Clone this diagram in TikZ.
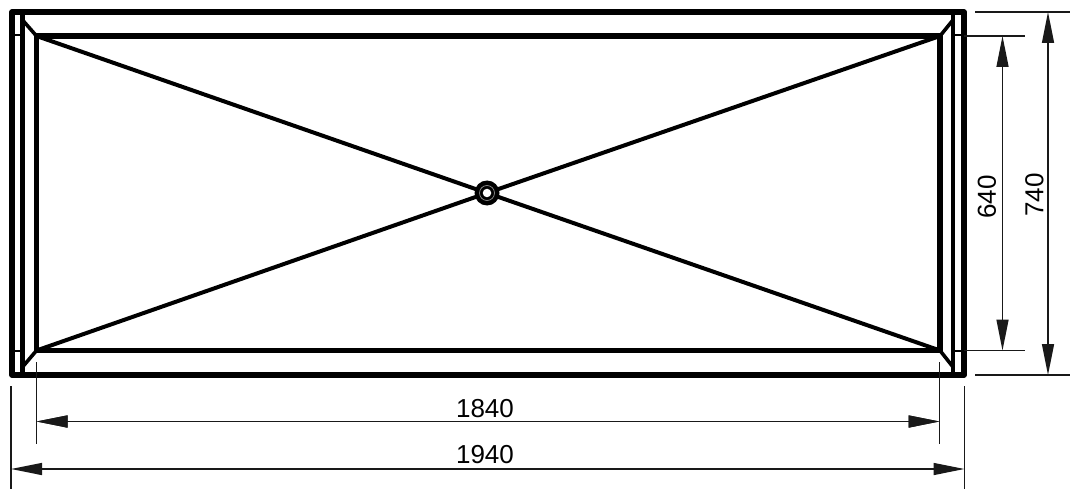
\documentclass[tikz,border=0pt]{standalone}
\usepackage{fontspec}
\setmainfont{Liberation Sans}
\usetikzlibrary{arrows.meta}
\tikzset{
  heavy/.style={line width=5.4pt,black,line join=round},
  inner/.style={line width=5.6pt,black,line join=miter},
  post/.style={line width=4.4pt,black},
  medium/.style={line width=4pt,black},
  mitre/.style={line width=3.6pt,black},
  light/.style={line width=2.6pt,black},
  extline/.style={line width=1.4pt,black!90},
  dimline/.style={line width=1.4pt,black!90,{Triangle[length=31pt,width=12pt]}-{Triangle[length=31pt,width=12pt]}},
  dimtext/.style={font=\fontsize{26pt}{27pt}\selectfont,inner sep=0pt,text=black}
}
\begin{document}
\begin{tikzpicture}[x=1pt,y=-1pt]
\useasboundingbox (0,0) rectangle (1070,489);
\fill[white] (0,0) rectangle (1070,489);
% corners
\coordinate (TL) at (12,12);
\coordinate (TR) at (964,12);
\coordinate (BR) at (964,375);
\coordinate (BL) at (12,375);
\coordinate (iTL) at (36.5,36);
\coordinate (iTR) at (940,36);
\coordinate (iBR) at (940,350.5);
\coordinate (iBL) at (36.5,350.5);
\coordinate (C) at (487,193);
% frame
\draw[heavy] (TL) rectangle (BR);
\draw[inner] (iTL) rectangle (iBR);
\draw[post] (22.5,12) -- (22.5,375);
\draw[post] (953,12) -- (953,375);
\draw[light] (12,35) -- (22.5,35);
\draw[light] (12,351) -- (22.5,351);
\draw[light] (953,35) -- (964,35);
\draw[light] (953,351) -- (964,351);
% mitres
\draw[mitre] (22.5,20) -- (iTL);
\draw[mitre] (953,20) -- (iTR);
\draw[mitre] (22.5,367) -- (iBL);
\draw[mitre] (953,367) -- (iBR);
% diagonals
\draw[medium] (iTL) -- (C);
\draw[medium] (iTR) -- (C);
\draw[medium] (iBL) -- (C);
\draw[medium] (iBR) -- (C);
% drain
\node[circle,fill=black,minimum size=25pt,inner sep=0pt] (drain) at (C) {};
\node[circle,draw=white!55!black,line width=0.7pt,minimum size=15pt,inner sep=0pt] (ring) at (C) {};
\node[circle,fill=white,minimum size=8.5pt,inner sep=0pt] (hole) at (C) {};
% extension lines
\draw[extline] (975,12) -- (1070,12);
\draw[extline] (975,375) -- (1070,375);
\draw[extline] (964,36) -- (1025,36);
\draw[extline] (964,350.5) -- (1025,350.5);
\draw[extline] (11,386) -- (11,489);
\draw[extline] (964.5,386) -- (964.5,489);
\draw[extline] (36.5,362) -- (36.5,444);
\draw[extline] (939.5,362) -- (939.5,444);
% dimensions
\coordinate (d740a) at (1048,12);
\coordinate (d740b) at (1048,375);
\coordinate (d640a) at (1002.5,36);
\coordinate (d640b) at (1002.5,350.5);
\coordinate (d1840a) at (36.5,421.5);
\coordinate (d1840b) at (939.5,421.5);
\coordinate (d1940a) at (11,469);
\coordinate (d1940b) at (964.5,469);
\draw[dimline] (d740a) -- (d740b);
\draw[dimline] (d640a) -- (d640b);
\draw[dimline] (d1840a) -- (d1840b);
\draw[dimline] (d1840a) -- (d1840b);
\draw[dimline] (d1940a) -- (d1940b);
\node[dimtext,rotate=90] (t740) at (1034.5,195) {740};
\node[dimtext,rotate=90] (t640) at (987,197) {640};
\node[dimtext] (t1840) at (485,408.5) {1840};
\node[dimtext] (t1940) at (485,455) {1940};
\end{tikzpicture}
\end{document}
